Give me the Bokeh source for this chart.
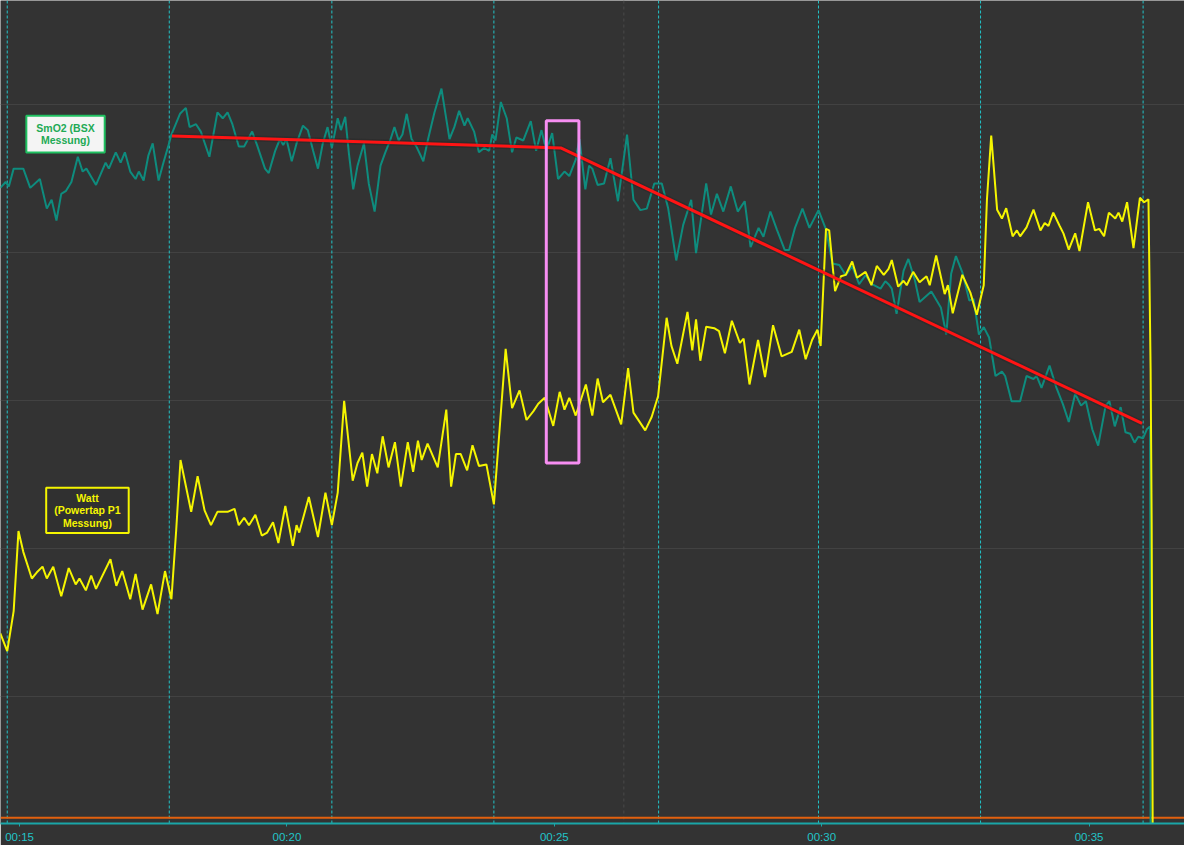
from bokeh.plotting import figure
from bokeh.models import Range1d, FixedTicker, Span, Label, BoxAnnotation
from bokeh.embed import file_html
from bokeh.resources import INLINE

# ---------------- data ----------------
# time in minutes, power in W
watt_t = [14.64, 14.77, 14.89, 14.98, 15.07, 15.23, 15.32, 15.43, 15.51, 15.63, 15.78, 15.92, 16.05, 16.12,
          16.24, 16.34, 16.43, 16.70, 16.81, 16.92, 17.07, 17.17, 17.30, 17.46, 17.58, 17.72, 17.84, 17.93,
          18.01, 18.21, 18.33, 18.46, 18.58, 18.70, 18.89, 19.02, 19.10, 19.20, 19.29, 19.41, 19.53, 19.63,
          19.74, 19.84, 19.97, 20.11, 20.18,
          20.23, 20.41, 20.58, 20.72, 20.84, 20.95, 21.07, 21.23, 21.32, 21.41, 21.50, 21.59, 21.69, 21.79,
          21.90, 22.02, 22.13, 22.26, 22.36, 22.45, 22.52, 22.63, 22.82, 22.98, 23.07, 23.16, 23.25, 23.37,
          23.47, 23.59, 23.73, 23.87, 23.99, 24.09, 24.21, 24.35, 24.48, 24.61, 24.70, 24.82, 24.98, 25.10,
          25.19, 25.28, 25.40, 25.59, 25.71,
          25.81, 25.91, 26.05, 26.25, 26.38, 26.48, 26.70, 26.82, 26.94, 27.10, 27.19, 27.30, 27.49, 27.58,
          27.65, 27.73, 27.84, 27.99, 28.08, 28.19, 28.32, 28.47, 28.54, 28.65, 28.81, 28.94, 29.09, 29.25,
          29.44, 29.58, 29.70, 29.82, 29.92, 29.98, 30.08, 30.14, 30.25, 30.36, 30.45, 30.57, 30.66, 30.82,
          30.93, 31.03, 31.16, 31.25,
          31.31, 31.43, 31.53, 31.59, 31.71, 31.83, 31.96, 32.02, 32.14, 32.30, 32.36, 32.45, 32.63, 32.78,
          32.90, 33.03, 33.09, 33.17, 33.28, 33.37, 33.45, 33.57, 33.65, 33.71, 33.83, 33.96, 34.09, 34.17,
          34.24, 34.33, 34.45, 34.52, 34.62, 34.74, 34.82, 34.98, 35.11, 35.19, 35.28, 35.37, 35.49, 35.55,
          35.62, 35.71, 35.83, 35.95, 36.03, 36.11, 36.13, 36.15, 36.17, 36.19]
watt_w = [143, 131, 158, 212, 198, 180, 184, 188, 180, 188, 168, 187, 176, 180,
          172, 182, 173, 193, 175, 185, 166, 183, 159, 176, 156, 185, 166, 213,
          260, 225, 249, 226, 216, 225, 225, 227, 216, 221, 216, 223, 209, 211,
          218, 204, 229, 202, 216,
          211, 235, 208, 238, 216, 238, 300, 246, 258, 265, 242, 264, 251, 276,
          255, 272, 242, 272, 252, 273, 260, 271, 255, 294, 242, 264, 264, 253,
          270, 256, 257, 230, 287, 335, 295, 307, 287, 293, 298, 302, 283, 306,
          294, 302, 290, 311, 290,
          315, 299, 304, 284, 322, 292, 280, 289, 303, 356, 337, 325, 360, 334,
          355, 327, 350, 349, 347, 332, 354, 339, 342, 311, 341, 316, 351, 330,
          333, 348, 328, 341, 348, 337, 416, 415, 374, 384, 385, 394, 383, 387,
          378, 391, 385, 389,
          395, 377, 381, 378, 387, 380, 384, 378, 398, 372, 378, 359, 385, 373,
          358, 378, 436, 479, 429, 423, 430, 411, 415, 411, 417, 429, 415, 420,
          418, 427, 418, 413, 402, 413, 401, 434, 415, 416, 411, 427, 423, 427,
          421, 434, 403, 437, 434, 436, 379, 322, 218, 0]

# muscle oxygen saturation, %
smo2_t = [14.64, 14.74, 14.80, 14.89, 15.07, 15.20, 15.38, 15.51, 15.60, 15.69, 15.78, 15.87, 15.97, 16.09,
          16.18, 16.25, 16.43, 16.61, 16.67, 16.80, 16.89, 16.97, 17.07, 17.17, 17.23, 17.32, 17.41, 17.49,
          17.60, 17.69, 17.78, 17.84, 18.00, 18.11, 18.18, 18.30, 18.39, 18.55, 18.70, 18.80, 18.89, 18.98,
          19.10, 19.20, 19.35, 19.44, 19.59, 19.66, 19.78, 19.87, 19.93, 19.99, 20.09, 20.18, 20.30, 20.39,
          20.49, 20.58, 20.67, 20.76, 20.84, 20.95, 21.01, 21.09, 21.16, 21.24, 21.32, 21.44, 21.53, 21.64,
          21.75, 21.84, 21.93, 22.01, 22.09, 22.16, 22.24, 22.33, 22.42, 22.55, 22.64, 22.76, 22.89, 22.96,
          23.04, 23.13, 23.22, 23.32, 23.38, 23.50, 23.59, 23.69, 23.78, 23.84, 23.90, 24.00, 24.11, 24.21,
          24.29, 24.42, 24.56, 24.66, 24.76, 24.85, 24.96, 25.07, 25.19, 25.28, 25.40, 25.47, 25.58, 25.65,
          25.71, 25.81, 25.93, 26.05, 26.19, 26.36, 26.48, 26.61, 26.73, 26.87, 27.01, 27.13, 27.28, 27.41,
          27.56, 27.65, 27.84, 27.93, 28.04, 28.16, 28.30, 28.43, 28.56, 28.67, 28.82, 28.91, 29.04, 29.16,
          29.31, 29.39, 29.50, 29.64, 29.77, 29.94, 30.08, 30.20, 30.33, 30.45, 30.57, 30.70, 30.82, 30.94,
          31.10, 31.19, 31.25, 31.31, 31.40, 31.53, 31.62, 31.74, 31.83, 32.05, 32.23, 32.33, 32.42, 32.51,
          32.63, 32.76, 32.84, 32.94, 33.03, 33.13, 33.25, 33.37, 33.43, 33.55, 33.71, 33.83, 33.96, 34.02,
          34.11, 34.26, 34.39, 34.51, 34.62, 34.74, 34.85, 34.94, 35.06, 35.17, 35.31, 35.38, 35.48, 35.59,
          35.68, 35.77, 35.85, 35.92, 36.01, 36.08, 36.14, 36.16]
smo2_v = [74.3, 74.7, 74.4, 75.6, 75.6, 74.3, 74.9, 72.9, 73.5, 72.1, 73.9, 74.1, 74.7, 76.4,
          75.4, 75.6, 74.5, 76.0, 75.6, 76.7, 76.0, 76.7, 75.4, 74.9, 75.4, 74.8, 76.5, 77.3,
          74.8, 76.0, 77.1, 77.9, 79.3, 79.7, 78.4, 78.6, 78.1, 76.4, 79.4, 79.0, 79.4, 78.6,
          77.1, 77.1, 78.1, 77.2, 75.6, 75.3, 76.8, 77.6, 77.2, 77.6, 76.1, 77.3, 78.5, 78.2,
          76.8, 75.6, 77.3, 78.4, 77.0, 79.0, 78.2, 79.1, 76.6, 74.2, 75.8, 77.3, 74.6, 72.7,
          75.8, 76.7, 77.5, 78.4, 77.5, 77.9, 79.3, 77.6, 77.1, 76.1, 77.6, 79.4, 81.0, 79.4,
          77.6, 78.4, 79.5, 78.5, 79.0, 78.1, 76.7, 77.0, 76.8, 77.9, 77.5, 80.1, 79.0, 76.7,
          77.7, 77.5, 78.8, 76.8, 78.2, 76.8, 78.0, 74.9, 75.4, 75.1, 76.2, 77.6, 74.2, 75.8,
          75.6, 74.5, 74.6, 76.3, 73.4, 77.9, 73.5, 72.8, 72.9, 74.6, 74.6, 72.9, 69.4, 71.8,
          73.5, 69.9, 74.6, 72.5, 73.9, 72.7, 74.4, 72.7, 73.4, 70.3, 71.6, 71.0, 72.7, 71.5,
          70.1, 70.1, 71.6, 72.9, 71.6, 72.8, 71.5, 69.2, 69.1, 68.4, 69.0, 67.8, 68.4, 67.8,
          67.5, 68.0, 67.8, 67.5, 65.8, 68.7, 69.5, 68.1, 66.6, 67.3, 66.2, 64.4, 68.5, 69.7,
          68.6, 66.7, 66.8, 64.4, 64.9, 64.2, 61.6, 61.9, 61.6, 59.9, 59.9, 61.6, 61.4, 61.6,
          60.8, 62.3, 60.8, 59.7, 58.5, 60.4, 59.6, 59.9, 58.0, 56.9, 59.6, 59.9, 58.2, 59.5,
          57.8, 57.7, 57.1, 57.5, 57.4, 58.0, 58.2, 0.0]

# SmO2 trend (hand-drawn in the original)
trend_t = [17.85, 25.12, 35.99]
trend_v = [77.8, 77.0, 58.4]

# interval / lap markers (minutes)
lap_times = [14.77, 17.80, 20.84, 23.87, 26.95, 29.94, 32.97, 36.01]
minor_marker_times = [26.30]

# highlighted window (minutes, W)
highlight_t = [24.85, 25.46]
highlight_w = [258, 489]

baseline_level = 18.5          # orange reference line (W)
watt_grid = [100, 200, 300, 400, 500]
tick_minutes = [15, 20, 25, 30, 35]
tick_labels = ["00:15", "00:20", "00:25", "00:30", "00:35"]

# ---------------- styling ----------------
BG = "#333333"
CYAN = "#22c4c8"
YELLOW = "#f5f500"
TEAL = "#0e8c7e"
FONT = "Liberation Sans"

p = figure(width=1184, height=845, output_backend="svg", toolbar_location=None,
           x_range=Range1d(14.644, 36.784), y_range=Range1d(14.6, 570.2),
           background_fill_color=BG, border_fill_color=BG,
           min_border_left=0, min_border_right=0, min_border_top=0, min_border_bottom=0)
p.extra_y_ranges = {"smo2": Range1d(31.39, 86.95)}
p.outline_line_color = None

p.yaxis.visible = False
p.xgrid.grid_line_color = None
p.ygrid.ticker = FixedTicker(ticks=watt_grid)
p.ygrid.grid_line_color = "#424242"
p.ygrid.grid_line_width = 1

ax = p.xaxis[0]
ax.ticker = FixedTicker(ticks=tick_minutes)
ax.major_label_overrides = {t: l for t, l in zip(tick_minutes, tick_labels)}
ax.axis_line_color = "#1aa6a8"
ax.axis_line_width = 2
ax.major_tick_line_color = "#1aa6a8"
ax.major_tick_out = 3
ax.major_tick_in = 0
ax.minor_tick_line_color = None
ax.major_label_text_color = CYAN
ax.major_label_text_font = FONT
ax.major_label_text_font_size = "11.5px"
ax.major_label_standoff = 4

for t in lap_times:
    p.add_layout(Span(location=t, dimension="height", line_color=CYAN, line_width=1,
                      line_dash="3 2", level="underlay"))
for t in minor_marker_times:
    p.add_layout(Span(location=t, dimension="height", line_color="#4a4a4a", line_width=1,
                      line_dash="3 3", level="underlay"))

p.add_layout(Span(location=baseline_level, dimension="width", line_color="#e2600e",
                  line_width=2, level="underlay"))

p.line(smo2_t, smo2_v, y_range_name="smo2", line_color=TEAL, line_width=2)
p.line(watt_t, watt_w, line_color=YELLOW, line_width=2)

# soft shadow under the trend line, then the trend line itself
p.line(trend_t, trend_v, y_range_name="smo2", line_color="#222222", line_width=6, line_alpha=0.35)
p.line(trend_t, trend_v, y_range_name="smo2", line_color="#ff1414", line_width=3)

p.add_layout(BoxAnnotation(left=highlight_t[0], right=highlight_t[1],
                           bottom=highlight_w[0], top=highlight_w[1],
                           fill_color=None, fill_alpha=0, line_color="#f78ef2",
                           line_alpha=1.0, line_width=3))

p.add_layout(Label(x=15.86, y=480, text="SmO2 (BSX\nMessung)", text_align="center",
                   text_baseline="middle", text_font=FONT, text_font_size="10.5px",
                   text_font_style="bold", text_color="#22aa55", text_line_height=1.05,
                   background_fill_color="#f4f4f4", border_line_color="#1fc060",
                   border_line_width=2, padding=(10, 6)))
p.add_layout(Label(x=16.27, y=226, text="Watt\n(Powertap P1\nMessung)", text_align="center",
                   text_baseline="middle", text_font=FONT, text_font_size="10.5px",
                   text_font_style="bold", text_color=YELLOW, text_line_height=1.05,
                   background_fill_color="#303030", border_line_color=YELLOW,
                   border_line_width=2, padding=(8, 4)))

open("out.html", "w").write(file_html(p, INLINE))
